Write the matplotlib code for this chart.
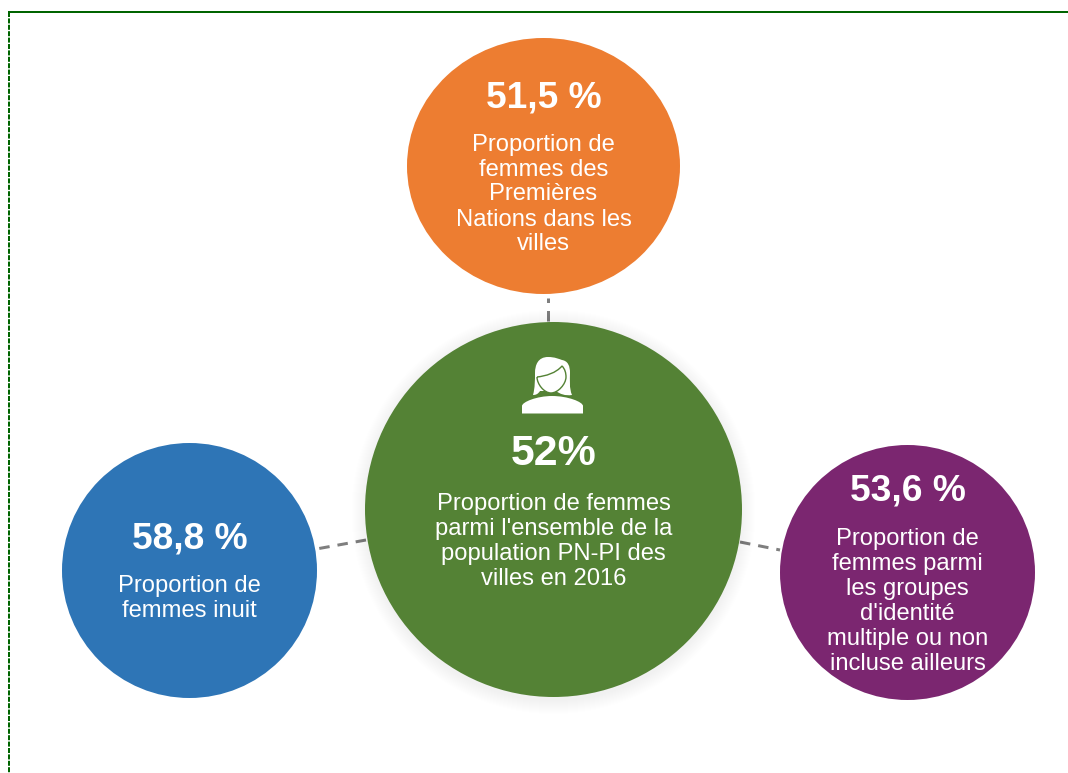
#!/usr/bin/env python3
"""Proportion de femmes : infographie en cercles, coordonnees en pixels."""

import matplotlib
matplotlib.use('Agg')
import matplotlib.pyplot as plt
from matplotlib.patches import Ellipse, Circle, PathPatch
from matplotlib.path import Path

plt.rcParams['font.family'] = ['Liberation Sans', 'DejaVu Sans']
plt.rcParams['lines.scale_dashes'] = False

# Chart content
values = ['51,5 %', '58,8 %', '52%', '53,6 %']
labels = [
    ['Proportion de', 'femmes des', 'Premières', 'Nations dans les', 'villes'],
    ['Proportion de', 'femmes inuit'],
    ['Proportion de femmes', "parmi l'ensemble de la", 'population PN-PI des', 'villes en 2016'],
    ['Proportion de', 'femmes parmi', 'les groupes', "d'identité", 'multiple ou non', 'incluse ailleurs'],
]

# Layout and styles, in reference pixels
colors = ['#ED7D31', '#2E75B6', '#548235', '#7B2670']
centers = [(543.5, 166), (189.5, 570.5), (553.5, 509.5), (907.5, 572.5)]
sizes = [(273, 256), (255, 255), (377, 375), (255, 255)]
value_y = [98, 539, 454, 491]
value_size = [26.7, 26.7, 30.8, 26.7]
label_y = [144.5, 586, 504, 539]
connectors = [((547.5, 321), (547.5, 298)), ((366, 540), (319, 548.5)), ((740, 542), (780, 550))]
BORDER = '#006400'
GRAY = '#7F7F7F'

fig = plt.figure(figsize=(10.68, 7.73), dpi=100, facecolor='white')
ax = fig.add_axes([0, 0, 1, 1])
ax.set_xlim(0, 1068)
ax.set_ylim(773, 0)
ax.axis('off')

px = 72 / fig.dpi

# Frame: solid on top, dashed on the left
ax.plot([8, 1068], [12, 12], color=BORDER, lw=2 * px, solid_capstyle='butt')
ax.plot([8.5, 8.5], [12, 773], color=BORDER, lw=2 * px, dash_capstyle='butt',
        linestyle=(0, (5 * px, 1.4 * px)))

# Connectors go under the circles
for start, end in connectors:
    ax.plot([start[0], end[0]], [start[1], end[1]], color=GRAY, lw=3 * px,
            linestyle=(0, (10.5 * px, 8 * px)), dash_capstyle='butt', zorder=1)

# Soft shadow round the green circle
for grow in range(14, 0, -1):
    ax.add_patch(Circle((553.5, 512), 188 + grow, color='black', alpha=0.003, lw=0, zorder=1.5))

for center, size, color in zip(centers, sizes, colors):
    ax.add_patch(Ellipse(center, size[0], size[1], facecolor=color, edgecolor='none', zorder=2))

for i in range(len(values)):
    ax.text(centers[i][0], value_y[i], values[i], color='white', fontsize=value_size[i],
            fontweight='bold', ha='center', va='center', zorder=3)
    for j, line in enumerate(labels[i]):
        ax.text(centers[i][0], label_y[i] + j * 25, line, color='white', fontsize=17.1,
                ha='center', va='center', zorder=3)

# Woman icon
hair_pts = [(533, 395), (535, 388), (535, 380), (535, 373),
            (535, 365), (538, 357), (548, 357),
            (555, 357), (559, 359), (562, 360),
            (568, 361), (570, 366), (570, 373),
            (570, 380), (569, 388), (572, 395),
            (565, 396), (560, 394), (556, 391),
            (550, 391), (545, 391), (540, 391),
            (538, 394), (536, 395), (533, 395)]
hair = Path(hair_pts, [Path.MOVETO] + [Path.CURVE4] * (len(hair_pts) - 1))
ax.add_patch(PathPatch(hair, facecolor='white', edgecolor='none', zorder=3))

face_pts = [(537, 377), (546, 376), (556, 373), (562, 366),
            (565, 369), (566, 373), (566, 377),
            (566, 384), (558, 393), (551, 393),
            (544, 393), (537, 384), (537, 377)]
face = Path(face_pts, [Path.MOVETO] + [Path.CURVE4] * (len(face_pts) - 1))
ax.add_patch(PathPatch(face, facecolor='white', edgecolor=colors[2], lw=1.4 * px, zorder=4))

body_pts = [(522, 413.5), (522, 406), (522, 402), (537, 396), (552, 396),
            (568, 396), (583, 402), (583, 406), (583, 413.5), (522, 413.5)]
body_codes = [Path.MOVETO, Path.LINETO, Path.CURVE4, Path.CURVE4, Path.CURVE4,
              Path.CURVE4, Path.CURVE4, Path.CURVE4, Path.LINETO, Path.CLOSEPOLY]
ax.add_patch(PathPatch(Path(body_pts, body_codes), facecolor='white', edgecolor='none', zorder=3))

fig.savefig('out.png', dpi=100, facecolor='white')
